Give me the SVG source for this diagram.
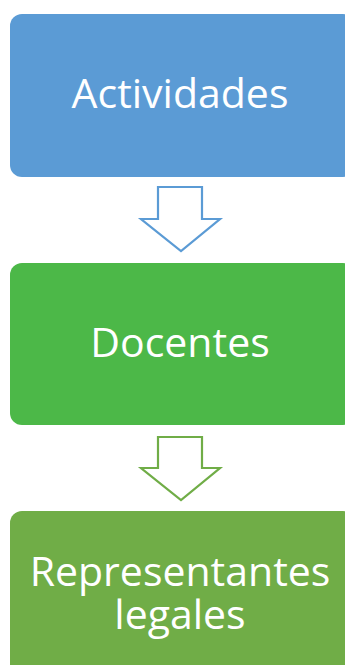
<svg xmlns="http://www.w3.org/2000/svg" width="345" height="665" viewBox="0 0 345 665">
<style>
.lbl{font-family:"Open Sans","Liberation Sans",sans-serif;font-size:41px;fill:#fff;text-anchor:middle}
.arr{fill:#fff;stroke-width:2.2;stroke-linejoin:miter}
</style>
<rect width="345" height="665" fill="#fff"/>
<g id="connectors">
<path class="arr" stroke="#5B9BD5" d="M158,187 H202 V219 H220 L181,251 L141,219 H158 Z"/>
<path class="arr" stroke="#70AD47" d="M158,437 H202 V468 H220 L181,500 L141,468 H158 Z"/>
</g>
<g id="actividades">
<rect x="10" y="14" width="345" height="163" rx="12" fill="#5B9BD5"/>
<text class="lbl" x="180" y="108">Actividades</text>
</g>
<g id="docentes">
<rect x="10" y="263" width="345" height="162" rx="12" fill="#4CB848"/>
<text class="lbl" x="180" y="357">Docentes</text>
</g>
<g id="representantes">
<rect x="10" y="511" width="345" height="170" rx="12" fill="#70AD47"/>
<text class="lbl" x="180" y="586"><tspan x="180" y="586">Representantes</tspan><tspan x="180" y="629">legales</tspan></text>
</g>
</svg>
